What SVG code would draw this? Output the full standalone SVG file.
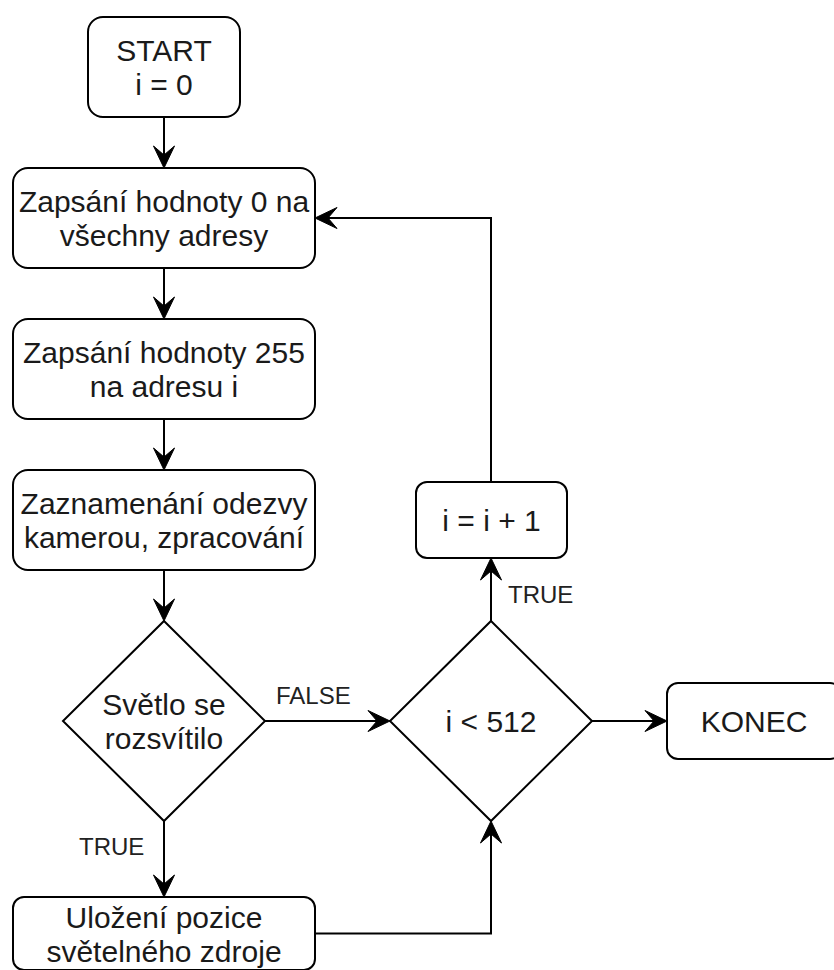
<svg xmlns="http://www.w3.org/2000/svg" width="834" height="970" viewBox="0 0 834 970">
  <style>
    .box { fill: #ffffff; stroke: #000000; stroke-width: 2; }
    .edge { fill: none; stroke: #000000; stroke-width: 2; }
    .t { font-family: "Liberation Sans", Arial, sans-serif; font-size: 30px; fill: #1a1a1a; text-anchor: middle; }
    .lbl { font-family: "Liberation Sans", Arial, sans-serif; font-size: 24px; fill: #222222; }
  </style>
  <defs>
    <!-- classic notched arrowhead; path ends at the notch, tip reaches the target -->
    <marker id="arrow" viewBox="-24 -12 26 24" markerWidth="26" markerHeight="24" refX="-13" refY="0" markerUnits="userSpaceOnUse" orient="auto">
      <path d="M0,0 L-22,-10.5 L-13,0 L-22,10.5 Z" fill="#000000" stroke="#000000" stroke-width="1" stroke-linejoin="miter"/>
    </marker>
  </defs>
  <rect width="834" height="970" fill="#ffffff"/>

  <g id="connectors">
    <path class="edge" d="M164,117 V155" marker-end="url(#arrow)"/>
    <path class="edge" d="M164,268 V306" marker-end="url(#arrow)"/>
    <path class="edge" d="M164,419 V457" marker-end="url(#arrow)"/>
    <path class="edge" d="M164,570 V608" marker-end="url(#arrow)"/>
    <path class="edge" d="M164,821 V884" marker-end="url(#arrow)"/>
    <path class="edge" d="M265,721 H377" marker-end="url(#arrow)"/>
    <path class="edge" d="M592,721 H654" marker-end="url(#arrow)"/>
    <path class="edge" d="M491,621 V571" marker-end="url(#arrow)"/>
    <path class="edge" d="M491,482 V218 H328" marker-end="url(#arrow)"/>
    <path class="edge" d="M315,933.5 H491 V834" marker-end="url(#arrow)"/>
    <text class="lbl" x="276" y="704">FALSE</text>
    <text class="lbl" x="79" y="855">TRUE</text>
    <text class="lbl" x="508" y="603">TRUE</text>
  </g>

  <g id="start">
    <rect class="box" x="88" y="17" width="152" height="100" rx="15"/>
    <text class="t" x="164" y="60.5">START</text>
    <text class="t" x="164" y="95.3">i = 0</text>
  </g>

  <g id="clear-all">
    <rect class="box" x="13" y="168" width="302" height="100" rx="15"/>
    <text class="t" x="164" y="211.5">Zapsání hodnoty 0 na</text>
    <text class="t" x="164" y="246.3">všechny adresy</text>
  </g>

  <g id="write-255">
    <rect class="box" x="13" y="319" width="302" height="100" rx="15"/>
    <text class="t" x="164" y="362.5">Zapsání hodnoty 255</text>
    <text class="t" x="164" y="397.3">na adresu i</text>
  </g>

  <g id="capture">
    <rect class="box" x="13" y="470" width="302" height="100" rx="15"/>
    <text class="t" x="164" y="513.5">Zaznamenání odezvy</text>
    <text class="t" x="164" y="548.3">kamerou, zpracování</text>
  </g>

  <g id="light-on">
    <polygon class="box" points="164,621 265,721 164,821 63,721"/>
    <text class="t" x="164" y="714.5">Světlo se</text>
    <text class="t" x="164" y="749.3">rozsvítilo</text>
  </g>

  <g id="save-position">
    <rect class="box" x="13" y="897" width="302" height="73" rx="11"/>
    <text class="t" x="164" y="927.5">Uložení pozice</text>
    <text class="t" x="164" y="962">světelného zdroje</text>
  </g>

  <g id="loop-check">
    <polygon class="box" points="491,621 592,721 491,821 390,721"/>
    <text class="t" x="491" y="731.5">i &lt; 512</text>
  </g>

  <g id="increment">
    <rect class="box" x="416" y="482" width="151" height="76" rx="11"/>
    <text class="t" x="491.5" y="530.5">i = i + 1</text>
  </g>

  <g id="end">
    <rect class="box" x="667" y="683" width="174" height="76" rx="11"/>
    <text class="t" x="754" y="731.5">KONEC</text>
  </g>
</svg>
